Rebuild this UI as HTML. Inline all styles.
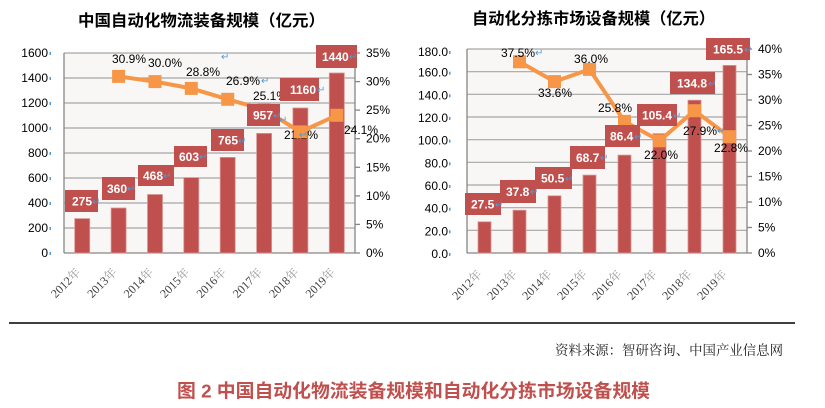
<!DOCTYPE html>
<html><head><meta charset="utf-8"><style>
html,body{margin:0;padding:0;background:#fff;}
svg{display:block;font-family:"Liberation Sans","Noto Sans CJK SC",sans-serif;}
.serif{font-family:"Liberation Serif","Noto Serif CJK SC",serif;}
</style></head><body>
<svg width="825" height="408" viewBox="0 0 825 408" xmlns="http://www.w3.org/2000/svg">
<!-- ================= LEFT CHART ================= -->
<text x="201.5" y="26" text-anchor="middle" font-size="16" font-weight="bold" fill="#000" textLength="247" lengthAdjust="spacingAndGlyphs">中国自动化物流装备规模（亿元）</text>
<rect x="64" y="53" width="291" height="200" fill="#F8F7F5"/>
<g stroke="#A6A6A6" stroke-width="1.2">
<line x1="64" y1="53" x2="355" y2="53"/><line x1="64" y1="78" x2="355" y2="78"/><line x1="64" y1="103" x2="355" y2="103"/><line x1="64" y1="128" x2="355" y2="128"/><line x1="64" y1="153" x2="355" y2="153"/><line x1="64" y1="178" x2="355" y2="178"/><line x1="64" y1="203" x2="355" y2="203"/><line x1="64" y1="228" x2="355" y2="228"/>
</g>
<g stroke="#868686" stroke-width="1.3">
<line x1="64" y1="53" x2="64" y2="253"/><line x1="64" y1="253" x2="355" y2="253"/><line x1="355" y1="53" x2="355" y2="253"/>
<line x1="355" y1="253" x2="360" y2="253"/><line x1="355" y1="224.4" x2="360" y2="224.4"/><line x1="355" y1="195.9" x2="360" y2="195.9"/><line x1="355" y1="167.3" x2="360" y2="167.3"/><line x1="355" y1="138.7" x2="360" y2="138.7"/><line x1="355" y1="110.1" x2="360" y2="110.1"/><line x1="355" y1="81.6" x2="360" y2="81.6"/><line x1="355" y1="53" x2="360" y2="53"/>
</g>
<g font-size="12" fill="#000" text-anchor="end">
<text x="48" y="57">1600</text><text x="48" y="82">1400</text><text x="48" y="107">1200</text><text x="48" y="132">1000</text><text x="48" y="157">800</text><text x="48" y="182">600</text><text x="48" y="207">400</text><text x="48" y="232">200</text><text x="48" y="257">0</text>
</g>
<g fill="#4A9BE0">
<rect x="49.5" y="52" width="1.5" height="3"/><rect x="49.5" y="77" width="1.5" height="3"/><rect x="49.5" y="102" width="1.5" height="3"/><rect x="49.5" y="127" width="1.5" height="3"/><rect x="49.5" y="152" width="1.5" height="3"/><rect x="49.5" y="177" width="1.5" height="3"/><rect x="49.5" y="202" width="1.5" height="3"/><rect x="49.5" y="227" width="1.5" height="3"/><rect x="49.5" y="252" width="1.5" height="3"/>
</g>
<g font-size="12" fill="#000">
<text x="366" y="57">35%</text><text x="366" y="85.6">30%</text><text x="366" y="114.1">25%</text><text x="366" y="142.7">20%</text><text x="366" y="171.3">15%</text><text x="366" y="199.9">10%</text><text x="366" y="228.4">5%</text><text x="366" y="257">0%</text>
</g>
<g fill="#C0504D" stroke="#D99694" stroke-width="0.8">
<rect x="74.7" y="218.6" width="15" height="34.4"/>
<rect x="111.1" y="208" width="15" height="45"/>
<rect x="147.5" y="194.5" width="15" height="58.5"/>
<rect x="183.8" y="177.6" width="15" height="75.4"/>
<rect x="220.2" y="157.4" width="15" height="95.6"/>
<rect x="256.6" y="133.4" width="15" height="119.6"/>
<rect x="292.9" y="108" width="15" height="145"/>
<rect x="329.3" y="73" width="15" height="180"/>
</g>
<g font-size="12" fill="#000">
<text x="112" y="63">30.9%</text>
<text x="148" y="67">30.0%</text>
<text x="186" y="76">28.8%</text>
<text x="226" y="85">26.9%</text>
<text x="253" y="100">25.1%</text>
<text x="284" y="139">21.2%</text>
<text x="344" y="134">24.1%</text>
</g>
<polyline points="118.6,76.4 155,81.6 191.3,88.4 227.7,99.3 264.1,109.6 300.4,131.9 336.8,115.3" fill="none" stroke="#F79646" stroke-width="4" stroke-linejoin="round"/>
<g fill="#F79646">
<rect x="112.1" y="69.9" width="13" height="13"/><rect x="148.5" y="75.1" width="13" height="13"/><rect x="184.8" y="81.9" width="13" height="13"/><rect x="221.2" y="92.8" width="13" height="13"/><rect x="257.6" y="103.1" width="13" height="13"/><rect x="293.9" y="125.4" width="13" height="13"/><rect x="330.3" y="108.8" width="13" height="13"/>
</g>
<g fill="#C0504D">
<rect x="65" y="190" width="33" height="22"/>
<rect x="102" y="177" width="33" height="23"/>
<rect x="138" y="165" width="36" height="21"/>
<rect x="174" y="146" width="33" height="21"/>
<rect x="211" y="129" width="33" height="22"/>
<rect x="247" y="104" width="33" height="22"/>
<rect x="280" y="78" width="39" height="23"/>
<rect x="316" y="45" width="41" height="23"/>
</g>
<g font-size="12" font-weight="bold" fill="#fff">
<text x="72" y="205.5">275</text>
<text x="107" y="193">360</text>
<text x="143" y="180">468</text>
<text x="179" y="161">603</text>
<text x="218" y="144.5">765</text>
<text x="253" y="119.5">957</text>
<text x="290" y="94">1160</text>
<text x="322" y="61">1440</text>
</g>
<g font-size="10" fill="#4A9BE0">
<text x="92" y="205">↵</text><text x="127" y="192">↵</text><text x="163" y="179">↵</text><text x="199" y="160">↵</text><text x="238" y="144">↵</text><text x="273" y="119">↵</text><text x="279" y="123">↵</text><text x="317" y="93">↵</text><text x="349" y="60">↵</text><text x="261" y="84">↵</text><text x="221" y="60">↵</text><text x="299" y="138">↵</text>
</g>
<g class="serif" font-size="12" fill="#404040" text-anchor="end">
<text style="font-family:'Liberation Serif','Noto Serif CJK SC',serif" transform="translate(81.2,273) rotate(-45)">2012<tspan fill="#999">年</tspan></text>
<text style="font-family:'Liberation Serif','Noto Serif CJK SC',serif" transform="translate(117.6,273) rotate(-45)">2013<tspan fill="#999">年</tspan></text>
<text style="font-family:'Liberation Serif','Noto Serif CJK SC',serif" transform="translate(154,273) rotate(-45)">2014<tspan fill="#999">年</tspan></text>
<text style="font-family:'Liberation Serif','Noto Serif CJK SC',serif" transform="translate(190.3,273) rotate(-45)">2015<tspan fill="#999">年</tspan></text>
<text style="font-family:'Liberation Serif','Noto Serif CJK SC',serif" transform="translate(226.7,273) rotate(-45)">2016<tspan fill="#999">年</tspan></text>
<text style="font-family:'Liberation Serif','Noto Serif CJK SC',serif" transform="translate(263.1,273) rotate(-45)">2017<tspan fill="#999">年</tspan></text>
<text style="font-family:'Liberation Serif','Noto Serif CJK SC',serif" transform="translate(299.4,273) rotate(-45)">2018<tspan fill="#999">年</tspan></text>
<text style="font-family:'Liberation Serif','Noto Serif CJK SC',serif" transform="translate(335.8,273) rotate(-45)">2019<tspan fill="#999">年</tspan></text>
</g>

<!-- ================= RIGHT CHART ================= -->
<text x="593.5" y="24" text-anchor="middle" font-size="16" font-weight="bold" fill="#000" textLength="243" lengthAdjust="spacingAndGlyphs">自动化分拣市场设备规模（亿元）</text>
<rect x="467" y="49" width="280" height="204" fill="#F8F7F5"/>
<g stroke="#A6A6A6" stroke-width="1.2">
<line x1="467" y1="49" x2="747" y2="49"/><line x1="467" y1="71.7" x2="747" y2="71.7"/><line x1="467" y1="94.3" x2="747" y2="94.3"/><line x1="467" y1="117" x2="747" y2="117"/><line x1="467" y1="139.7" x2="747" y2="139.7"/><line x1="467" y1="162.3" x2="747" y2="162.3"/><line x1="467" y1="185" x2="747" y2="185"/><line x1="467" y1="207.7" x2="747" y2="207.7"/><line x1="467" y1="230.3" x2="747" y2="230.3"/>
</g>
<g stroke="#868686" stroke-width="1.3">
<line x1="467" y1="49" x2="467" y2="253"/><line x1="467" y1="253" x2="747" y2="253"/><line x1="747" y1="49" x2="747" y2="253"/>
<line x1="747" y1="253" x2="752" y2="253"/><line x1="747" y1="227.5" x2="752" y2="227.5"/><line x1="747" y1="202" x2="752" y2="202"/><line x1="747" y1="176.5" x2="752" y2="176.5"/><line x1="747" y1="151" x2="752" y2="151"/><line x1="747" y1="125.5" x2="752" y2="125.5"/><line x1="747" y1="100" x2="752" y2="100"/><line x1="747" y1="74.5" x2="752" y2="74.5"/><line x1="747" y1="49" x2="752" y2="49"/>
</g>
<g font-size="12" fill="#000" text-anchor="end">
<text x="448" y="56">180.0</text><text x="448" y="76.7">160.0</text><text x="448" y="99.3">140.0</text><text x="448" y="122">120.0</text><text x="448" y="144.7">100.0</text><text x="448" y="167.3">80.0</text><text x="448" y="190">60.0</text><text x="448" y="212.7">40.0</text><text x="448" y="235.3">20.0</text><text x="448" y="258">0.0</text>
</g>
<g fill="#4A9BE0">
<rect x="449" y="51" width="1.5" height="3"/><rect x="449" y="71.7" width="1.5" height="3"/><rect x="449" y="94.3" width="1.5" height="3"/><rect x="449" y="117" width="1.5" height="3"/><rect x="449" y="139.7" width="1.5" height="3"/><rect x="449" y="162.3" width="1.5" height="3"/><rect x="449" y="185" width="1.5" height="3"/><rect x="449" y="207.7" width="1.5" height="3"/><rect x="449" y="230.3" width="1.5" height="3"/><rect x="449" y="253" width="1.5" height="3"/>
</g>
<g font-size="12" fill="#000">
<text x="758" y="53">40%</text><text x="758" y="78.5">35%</text><text x="758" y="104">30%</text><text x="758" y="129.5">25%</text><text x="758" y="155">20%</text><text x="758" y="180.5">15%</text><text x="758" y="206">10%</text><text x="758" y="231.5">5%</text><text x="758" y="257">0%</text>
</g>
<g fill="#C0504D" stroke="#D99694" stroke-width="0.8">
<rect x="478" y="221.8" width="13" height="31.2"/>
<rect x="513" y="210.2" width="13" height="42.8"/>
<rect x="548" y="195.8" width="13" height="57.2"/>
<rect x="583" y="175.1" width="13" height="77.9"/>
<rect x="618" y="155.1" width="13" height="97.9"/>
<rect x="653" y="133.6" width="13" height="119.4"/>
<rect x="688" y="100.2" width="13" height="152.8"/>
<rect x="723" y="65.4" width="13" height="187.6"/>
</g>
<polyline points="519.5,61.8 554.5,81.6 589.5,69.4 624.5,121.4 659.5,140.8 694.5,110.7 729.5,136.7" fill="none" stroke="#F79646" stroke-width="4" stroke-linejoin="round"/>
<g fill="#F79646">
<rect x="513" y="55.3" width="13" height="13"/><rect x="548" y="75.1" width="13" height="13"/><rect x="583" y="62.9" width="13" height="13"/><rect x="618" y="114.9" width="13" height="13"/><rect x="653" y="134.3" width="13" height="13"/><rect x="688" y="104.2" width="13" height="13"/><rect x="723" y="130.2" width="13" height="13"/>
</g>
<g fill="#C0504D">
<rect x="465" y="193" width="36" height="22"/>
<rect x="500" y="180" width="36" height="23"/>
<rect x="535" y="167" width="37" height="22"/>
<rect x="570" y="146" width="35" height="23"/>
<rect x="605" y="125" width="35" height="22"/>
<rect x="637" y="104" width="40" height="22"/>
<rect x="670" y="72" width="45" height="22"/>
<rect x="706" y="38" width="44" height="22"/>
</g>
<g font-size="12" font-weight="bold" fill="#fff">
<text x="471" y="208.5">27.5</text>
<text x="506" y="196">37.8</text>
<text x="541" y="182.5">50.5</text>
<text x="576" y="162">68.7</text>
<text x="610" y="140.5">86.4</text>
<text x="642" y="119.5">105.4</text>
<text x="677" y="87.5">134.8</text>
<text x="713" y="53.5">165.5</text>
</g>
<g font-size="12" fill="#000">
<text x="501" y="57">37.5%</text>
<text x="538" y="97">33.6%</text>
<text x="574" y="63">36.0%</text>
<text x="598" y="112">25.8%</text>
<text x="644" y="159">22.0%</text>
<text x="683" y="135">27.9%</text>
<text x="714" y="152">22.8%</text>
</g>
<g font-size="10" fill="#4A9BE0">
<text x="495" y="208">↵</text><text x="530" y="195">↵</text><text x="565" y="182">↵</text><text x="600" y="161">↵</text><text x="634" y="140">↵</text><text x="673" y="119">↵</text><text x="708" y="87">↵</text><text x="744" y="53">↵</text><text x="535" y="56">↵</text><text x="717" y="134">↵</text>
</g>
<g font-size="12" fill="#404040" text-anchor="end">
<text style="font-family:'Liberation Serif','Noto Serif CJK SC',serif" transform="translate(482.5,275) rotate(-45)">2012<tspan fill="#999">年</tspan></text>
<text style="font-family:'Liberation Serif','Noto Serif CJK SC',serif" transform="translate(517.5,275) rotate(-45)">2013<tspan fill="#999">年</tspan></text>
<text style="font-family:'Liberation Serif','Noto Serif CJK SC',serif" transform="translate(552.5,275) rotate(-45)">2014<tspan fill="#999">年</tspan></text>
<text style="font-family:'Liberation Serif','Noto Serif CJK SC',serif" transform="translate(587.5,275) rotate(-45)">2015<tspan fill="#999">年</tspan></text>
<text style="font-family:'Liberation Serif','Noto Serif CJK SC',serif" transform="translate(622.5,275) rotate(-45)">2016<tspan fill="#999">年</tspan></text>
<text style="font-family:'Liberation Serif','Noto Serif CJK SC',serif" transform="translate(657.5,275) rotate(-45)">2017<tspan fill="#999">年</tspan></text>
<text style="font-family:'Liberation Serif','Noto Serif CJK SC',serif" transform="translate(692.5,275) rotate(-45)">2018<tspan fill="#999">年</tspan></text>
<text style="font-family:'Liberation Serif','Noto Serif CJK SC',serif" transform="translate(727.5,275) rotate(-45)">2019<tspan fill="#999">年</tspan></text>
</g>

<!-- ================= FOOTER ================= -->
<line x1="9" y1="323" x2="795" y2="323" stroke="#000" stroke-width="1.5"/>
<text style="font-family:'Liberation Serif','Noto Serif CJK SC',serif" x="783" y="355" text-anchor="end" font-size="13.4" fill="#222" textLength="228" lengthAdjust="spacingAndGlyphs">资料来源：智研咨询、中国产业信息网</text>
<text x="413.5" y="397.5" text-anchor="middle" font-size="18.5" font-weight="bold" fill="#C0504D" textLength="473" lengthAdjust="spacingAndGlyphs">图 2 中国自动化物流装备规模和自动化分拣市场设备规模</text>
</svg>
</body></html>
